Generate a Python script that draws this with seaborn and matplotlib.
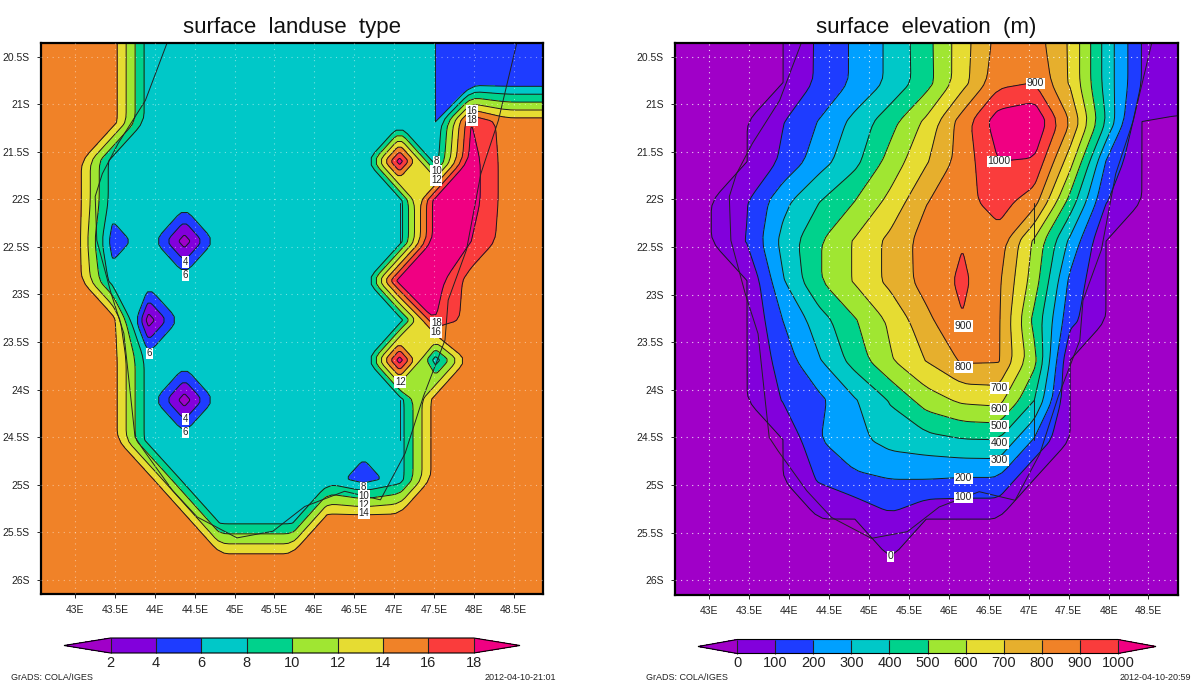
import numpy as np
import matplotlib
matplotlib.use("Agg")
import matplotlib.pyplot as plt
from matplotlib.path import Path
import seaborn as sns

lons = [42.57, 43.02, 43.47, 43.92, 44.37, 44.82, 45.27, 45.72, 46.17, 46.62, 47.07, 47.52, 47.97, 48.42, 48.87]
lats = [-20.35, -20.77, -21.185, -21.60, -22.02, -22.44, -22.855, -23.27, -23.69, -24.11, -24.525, -24.94, -25.36, -25.78, -26.20]

landuse = [
    [15, 15, 15, 7, 7, 7, 7, 7, 7, 7, 7, 6, 5, 5, 5],
    [15, 15, 15, 7, 7, 7, 7, 7, 7, 7, 7, 6, 5, 5, 5],
    [15, 15, 15, 7, 7, 7, 7, 7, 7, 7, 7, 6, 18, 15, 15],
    [15, 15, 7, 7, 7, 7, 7, 7, 7, 7, 19, 7, 19, 15, 15],
    [15, 15, 7, 7, 7, 7, 7, 7, 7, 7, 7, 19, 19, 15, 15],
    [15, 15, 5, 7, 1, 7, 7, 7, 7, 7, 7, 19, 18, 15, 15],
    [15, 15, 7, 7, 7, 7, 7, 7, 7, 7, 19, 19, 15, 15, 15],
    [15, 15, 15, 1, 7, 7, 7, 7, 7, 7, 7, 18, 15, 15, 15],
    [15, 15, 15, 7, 7, 7, 7, 7, 7, 7, 19, 7, 15, 15, 15],
    [15, 15, 15, 7, 1, 7, 7, 7, 7, 7, 7, 15, 15, 15, 15],
    [15, 15, 15, 7, 7, 7, 7, 7, 7, 7, 7, 15, 15, 15, 15],
    [15, 15, 15, 15, 7, 7, 7, 7, 7, 5, 7, 15, 15, 15, 15],
    [15, 15, 15, 15, 15, 7, 7, 7, 15, 15, 15, 15, 15, 15, 15],
    [15] * 15,
    [15] * 15,
]

elevation = [
    [-1, -1, -1, -1, 117, 217, 322, 465, 657, 835, 850, 685, 360, 95, 5],
    [-1, -1, -1, -1, 119, 217, 322, 460, 660, 870, 900, 685, 360, 95, 5],
    [-1, -1, -1, 95, 205, 330, 465, 625, 850, 1060, 1100, 800, 395, -1, -1],
    [-1, -1, -1, 120, 255, 370, 540, 690, 845, 1000, 990, 640, 195, -1, -1],
    [-1, -1, 95, 270, 395, 500, 630, 795, 865, 945, 845, 460, 105, -1, -1],
    [-1, -1, 105, 330, 490, 610, 730, 845, 895, 860, 580, 275, -1, -1, -1],
    [-1, -1, -1, 290, 490, 610, 730, 840, 920, 820, 550, 175, -1, -1, -1],
    [-1, -1, -1, 200, 350, 490, 620, 775, 895, 815, 470, 130, -1, -1, -1],
    [-1, -1, -1, 145, 290, 440, 590, 705, 815, 810, 530, -1, -1, -1, -1],
    [-1, -1, -1, 105, 175, 290, 410, 550, 620, 635, 400, -1, -1, -1, -1],
    [-1, -1, -1, -1, 195, 270, 338, 365, 395, 400, 190, -1, -1, -1, -1],
    [-1, -1, -1, -1, 110, 180, 200, 200, 190, 190, -1, -1, -1, -1, -1],
    [-1, -1, -1, -1, -1, -1, 80, -1, -1, -1, -1, -1, -1, -1, -1],
    [-1] * 15,
    [-1] * 15,
]

coast_lon = [44.15, 43.88, 43.54, 43.34, 43.25, 43.27, 43.45, 43.61, 43.75, 43.86, 44.04, 44.22, 44.53,
             45.03, 45.48, 45.88, 46.38, 46.83, 47.14, 47.37, 47.48, 47.64, 47.68, 47.91, 48.09, 48.31, 48.54]
coast_lat = [-20.36, -20.96, -21.41, -21.73, -21.97, -22.43, -22.99, -23.41, -24.50, -24.64, -24.85, -25.06, -25.34,
             -25.56, -25.49, -25.23, -25.07, -25.16, -24.67, -24.07, -23.83, -23.48, -23.06, -22.53, -21.73, -21.17, -20.36]
seam_lon = [47.07, 47.07, np.nan, 47.07, 47.07]
seam_lat = [-22.04, -22.46, np.nan, -24.11, -24.53]

land_levels = [2, 4, 6, 8, 10, 12, 14, 16, 18]
elev_levels = [0, 100, 200, 300, 400, 500, 600, 700, 800, 900, 1000]

grads_rgb = [(160, 0, 200), (130, 0, 220), (30, 60, 255), (0, 160, 255), (0, 200, 200), (0, 210, 140),
             (160, 230, 50), (230, 220, 50), (230, 175, 45), (240, 130, 40), (250, 60, 60), (240, 0, 130)]
land_rgb = [(160, 0, 200), (130, 0, 220), (30, 60, 255), (0, 200, 200), (0, 210, 140),
            (160, 230, 50), (230, 220, 50), (240, 130, 40), (250, 60, 60), (240, 0, 130)]

land_labels = ["4", "6", "6", "4", "6", "12", "8", "10", "12", "14", "8", "10", "12", "16", "18", "18", "16"]
land_label_lon = [44.38, 44.38, 43.93, 44.38, 44.38, 47.08, 46.62, 46.62, 46.62, 46.62, 47.53, 47.53, 47.53, 47.98, 47.98, 47.53, 47.53]
land_label_lat = [-22.66, -22.80, -23.62, -24.31, -24.45, -23.92, -25.03, -25.12, -25.21, -25.30, -21.60, -21.70, -21.80, -21.07, -21.17, -23.30, -23.40]
elev_labels = ["900", "1000", "900", "800", "700", "600", "500", "400", "300", "200", "100", "0"]
elev_label_lon = [47.08, 46.63, 46.18, 46.18, 46.63, 46.63, 46.63, 46.63, 46.63, 46.18, 46.18, 45.27]
elev_label_lat = [-20.78, -21.60, -23.33, -23.76, -23.98, -24.20, -24.38, -24.56, -24.74, -24.93, -25.13, -25.75]

xticks = [43, 43.5, 44, 44.5, 45, 45.5, 46, 46.5, 47, 47.5, 48, 48.5]
xticklabels = ["43E", "43.5E", "44E", "44.5E", "45E", "45.5E", "46E", "46.5E", "47E", "47.5E", "48E", "48.5E"]
yticks = [-20.5, -21, -21.5, -22, -22.5, -23, -23.5, -24, -24.5, -25, -25.5, -26]
yticklabels = ["20.5S", "21S", "21.5S", "22S", "22.5S", "23S", "23.5S", "24S", "24.5S", "25S", "25.5S", "26S"]

sns.set_theme(style="white", rc={"axes.linewidth": 1.6, "axes.edgecolor": "black"})
plt.rcParams["font.family"] = ["Liberation Sans", "DejaVu Sans"]

W, H = 1192, 684
fig = plt.figure(figsize=(W / 100, H / 100), dpi=100)


def box(x0, y0, x1, y1):
    return [x0 / W, 1 - y1 / H, (x1 - x0) / W, (y1 - y0) / H]


def chaikin(pts, closed, q=0.14, rounds=2):
    for _ in range(rounds):
        if closed:
            nxt = np.roll(pts, -1, axis=0)
            pts = np.column_stack([(1 - q) * pts + q * nxt, q * pts + (1 - q) * nxt]).reshape(-1, 2)
        else:
            a, b = pts[:-1], pts[1:]
            mid = np.column_stack([(1 - q) * a + q * b, q * a + (1 - q) * b]).reshape(-1, 2)
            pts = np.vstack([pts[:1], mid, pts[-1:]])
    return pts


def round_paths(cs):
    """Round the corners of every contour ring or line, as GrADS' contour smoothing does."""
    out = []
    for path in cs.get_paths():
        verts, codes = [], []
        for ring in path.to_polygons(closed_only=False):
            closed = len(ring) > 3 and np.allclose(ring[0], ring[-1])
            pts = chaikin(ring[:-1] if closed else ring, closed) if len(ring) > 2 else ring
            if closed:
                pts = np.vstack([pts, pts[:1]])
            verts.append(pts)
            c = np.full(len(pts), Path.LINETO, dtype=Path.code_type)
            c[0] = Path.MOVETO
            if closed:
                c[-1] = Path.CLOSEPOLY
            codes.append(c)
        out.append(Path(np.vstack(verts), np.concatenate(codes)) if verts else path)
    cs.set_paths(out)


def panel(rect, cbrect, z, levels, rgb, title, labels, lab_lon, lab_lat, stamp, foot_x, date_x, efl, efr, galpha, lsize):
    ax = fig.add_axes(box(*rect))
    cols = sns.color_palette([tuple(c / 255 for c in v) for v in rgb])
    arr = np.pad(np.array(z, dtype=float), 1, mode="edge")
    gx = np.r_[lons[0] - 0.45, lons, lons[-1] + 0.45]
    gy = np.r_[lats[0] + 0.42, lats, lats[-1] - 0.42]
    cf = ax.contourf(gx, gy, arr, levels=levels, colors=cols[1:-1], extend="both")
    cf.cmap.set_under(cols[0])
    cf.cmap.set_over(cols[-1])
    round_paths(cf)
    cl = ax.contour(gx, gy, arr, levels=levels, colors="#1a1a1a", linewidths=0.7)
    round_paths(cl)
    ax.plot(coast_lon, coast_lat, color="#222222", lw=0.7)
    ax.plot(seam_lon, seam_lat, color="#222222", lw=0.7)
    ax.set_xlim(42.57, 48.87)
    ax.set_ylim(-26.15, -20.356)
    ax.set_xticks(xticks, xticklabels, fontsize=7.5, color="#222222")
    ax.set_yticks(yticks, yticklabels, fontsize=7.5, color="#222222")
    ax.tick_params(length=3, width=0.7, direction="out", bottom=True, left=True, pad=5)
    ax.set_axisbelow(False)
    ax.grid(True, color="white", ls=(0, (1, 4)), lw=0.8, alpha=galpha)
    for t, x, y in zip(labels, lab_lon, lab_lat):
        ax.text(x, y, t, ha="center", va="center", fontsize=lsize, color="#222222", zorder=6,
                bbox=dict(facecolor="white", edgecolor="none", pad=0.5))
    ax.set_title(title, fontsize=16, color="#111111", y=1.0, pad=7)
    cax = fig.add_axes(box(*cbrect))
    cb = fig.colorbar(cf, cax=cax, orientation="horizontal", extendfrac=(efl, efr), drawedges=True, ticks=levels)
    cb.outline.set_linewidth(0.8)
    cb.dividers.set_linewidth(0.8)
    cb.dividers.set_color("#222222")
    cax.tick_params(length=0, labelsize=10.5, pad=2, labelcolor="#222222")
    fig.text(foot_x / W, 1 - 678 / H, "GrADS: COLA/IGES", fontsize=6.5, color="#222222", va="center")
    fig.text(date_x / W, 1 - 678 / H, stamp, fontsize=6.5, color="#222222", va="center", ha="right")


panel((41, 43, 543, 594), (64, 638, 520, 653), landuse, land_levels, land_rgb,
      "surface  landuse  type", land_labels, land_label_lon, land_label_lat,
      "2012-04-10-21:01", 11, 556, 0.128, 0.127, 0.45, 7)
panel((675, 43, 1178, 594.5), (698, 639.5, 1156, 653.5), elevation, elev_levels, grads_rgb,
      "surface  elevation  (m)", elev_labels, elev_label_lon, elev_label_lat,
      "2012-04-10-20:59", 646, 1191, 0.103, 0.10, 0.8, 7.5)

fig.savefig("out.png", dpi=100)
